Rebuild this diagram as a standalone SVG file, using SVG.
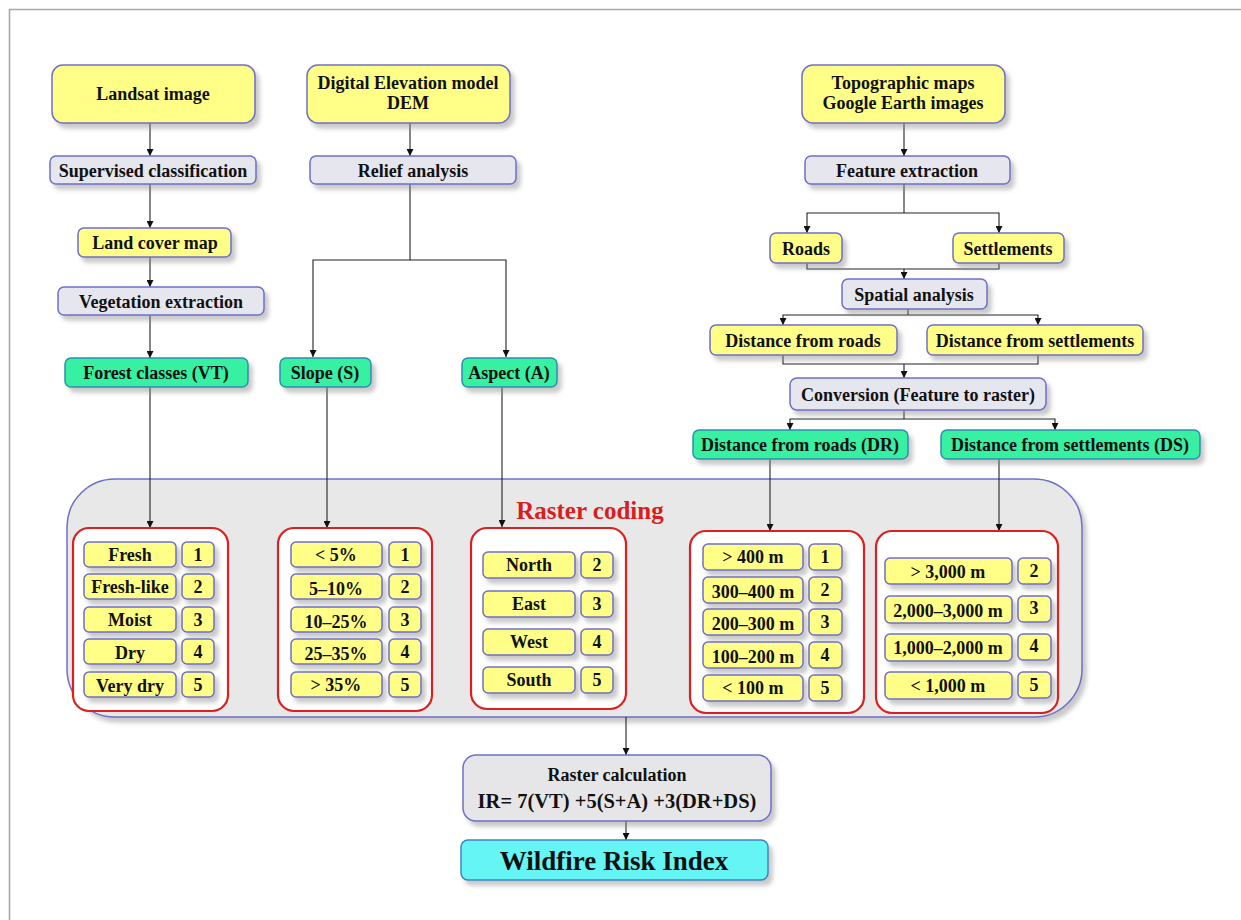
<svg xmlns="http://www.w3.org/2000/svg" width="1241" height="920" viewBox="0 0 1241 920">
<defs>
<filter id="sh" x="-20%" y="-20%" width="140%" height="160%">
<feDropShadow dx="4" dy="5" stdDeviation="2" flood-color="#888" flood-opacity="0.45"/>
</filter>
<marker id="ar" viewBox="0 0 10 10" refX="10" refY="5" markerWidth="7" markerHeight="7" orient="auto" markerUnits="userSpaceOnUse">
<path d="M0,0 L10,5 L0,10 z" fill="#111"/>
</marker>
<style>
text{font-family:"Liberation Serif","Times New Roman",serif;font-weight:bold;fill:#111;text-anchor:middle}
.y{fill:#FFFF88;stroke:#6F6FC6;stroke-width:1.5}
.g{fill:#E6E6EE;stroke:#6F6FC6;stroke-width:1.5}
.t{fill:#38F0A2;stroke:#2A8FB0;stroke-width:1.5}
.c{fill:#66F5F5;stroke:#3A86C0;stroke-width:1.5}
.rb{fill:#FFFFFF;stroke:#DD1F1F;stroke-width:2.2}
.s{font-size:18px}
.m{font-size:18px}
.ln{fill:none;stroke:#222;stroke-width:1.1}
.la{fill:none;stroke:#222;stroke-width:1.1;marker-end:url(#ar)}
</style>
</defs>
<rect x="0" y="0" width="1241" height="920" fill="#FFFFFF"/>
<path d="M9.5,920 V9.5 H1241" fill="none" stroke="#A8A8A8" stroke-width="1.6"/>

<g id="raster-coding">
<rect x="67" y="479" width="1015" height="238" rx="48" fill="#E8E8E8" stroke="#6F6FC6" stroke-width="1.5" filter="url(#sh)"/>
<text x="590" y="519" style="font-size:25px;fill:#D81E1E">Raster coding</text>
</g>

<g id="connectors">
<line class="la" x1="150" y1="123" x2="150" y2="156"/>
<line class="la" x1="150" y1="184" x2="150" y2="228"/>
<line class="la" x1="150" y1="257" x2="150" y2="287"/>
<line class="la" x1="150" y1="315" x2="150" y2="358"/>
<line class="la" x1="150" y1="387" x2="150" y2="528"/>
<line class="la" x1="410" y1="123" x2="410" y2="156"/>
<polyline class="ln" points="410,184 410,260"/>
<polyline class="la" points="410,260 313,260 313,357"/>
<polyline class="la" points="410,260 506,260 506,357"/>
<line class="la" x1="327" y1="387" x2="327" y2="528"/>
<line class="la" x1="502" y1="387" x2="502" y2="527"/>
<line class="la" x1="904" y1="123" x2="904" y2="156"/>
<polyline class="ln" points="904,184 904,213"/>
<polyline class="la" points="904,213 807,213 807,233"/>
<polyline class="la" points="904,213 999,213 999,233"/>
<polyline class="ln" points="807,263 807,269 999,269 999,263"/>
<line class="la" x1="904" y1="269" x2="904" y2="279"/>
<polyline class="ln" points="908,309 908,315"/>
<polyline class="la" points="908,315 783,315 783,325"/>
<polyline class="la" points="908,315 1038,315 1038,325"/>
<polyline class="ln" points="783,355 783,364 1038,364 1038,355"/>
<line class="la" x1="904" y1="364" x2="904" y2="378"/>
<polyline class="ln" points="904,410 904,419"/>
<polyline class="la" points="904,419 790,419 790,430"/>
<polyline class="la" points="904,419 1055,419 1055,430"/>
<line class="la" x1="770" y1="459" x2="770" y2="531"/>
<line class="la" x1="999" y1="459" x2="999" y2="531"/>
<line class="la" x1="626" y1="717" x2="626" y2="755"/>
<line class="la" x1="626" y1="821" x2="626" y2="840"/>
</g>

<g id="landsat"><rect class="y" x="52" y="65" width="203" height="58" rx="11" filter="url(#sh)"/><text class="m" x="153" y="100">Landsat image</text></g>
<g id="dem"><rect class="y" x="307" y="65" width="203" height="58" rx="11" filter="url(#sh)"/><text class="m" x="408" y="89">Digital Elevation model</text><text class="m" x="408" y="109">DEM</text></g>
<g id="topo"><rect class="y" x="802" y="65" width="203" height="58" rx="11" filter="url(#sh)"/><text class="m" x="903" y="89">Topographic maps</text><text class="m" x="903" y="109">Google Earth images</text></g>

<g id="supervised"><rect class="g" x="50" y="156" width="206" height="28" rx="6" filter="url(#sh)"/><text class="s" x="153" y="177">Supervised classification</text></g>
<g id="relief"><rect class="g" x="310" y="156" width="206" height="28" rx="6" filter="url(#sh)"/><text class="s" x="413" y="177">Relief analysis</text></g>
<g id="feature"><rect class="g" x="805" y="156" width="205" height="28" rx="6" filter="url(#sh)"/><text class="s" x="907" y="177">Feature extraction</text></g>

<g id="landcover"><rect class="y" x="78" y="228" width="153" height="29" rx="6" filter="url(#sh)"/><text class="s" x="155" y="249">Land cover map</text></g>
<g id="vegetation"><rect class="g" x="58" y="287" width="206" height="28" rx="6" filter="url(#sh)"/><text class="s" x="161" y="308">Vegetation extraction</text></g>
<g id="forest"><rect class="t" x="65" y="358" width="183" height="29" rx="6" filter="url(#sh)"/><text class="s" x="156" y="379">Forest classes (VT)</text></g>
<g id="slope"><rect class="t" x="280" y="358" width="91" height="29" rx="6" filter="url(#sh)"/><text class="s" x="325" y="379">Slope (S)</text></g>
<g id="aspect"><rect class="t" x="462" y="358" width="95" height="29" rx="6" filter="url(#sh)"/><text class="s" x="509" y="379">Aspect (A)</text></g>

<g id="roads"><rect class="y" x="770" y="233" width="72" height="30" rx="6" filter="url(#sh)"/><text class="s" x="806" y="255">Roads</text></g>
<g id="settlements"><rect class="y" x="953" y="233" width="111" height="30" rx="6" filter="url(#sh)"/><text class="s" x="1008" y="255">Settlements</text></g>
<g id="spatial"><rect class="g" x="842" y="279" width="145" height="30" rx="6" filter="url(#sh)"/><text class="s" x="914" y="301">Spatial analysis</text></g>
<g id="dist-roads"><rect class="y" x="710" y="325" width="187" height="30" rx="6" filter="url(#sh)"/><text class="s" x="803" y="347">Distance from roads</text></g>
<g id="dist-settl"><rect class="y" x="927" y="325" width="216" height="30" rx="6" filter="url(#sh)"/><text class="s" x="1035" y="347">Distance from settlements</text></g>
<g id="conversion"><rect class="g" x="790" y="378" width="256" height="32" rx="7" filter="url(#sh)"/><text class="s" x="918" y="401">Conversion (Feature to raster)</text></g>
<g id="dr"><rect class="t" x="693" y="430" width="215" height="29" rx="6" filter="url(#sh)"/><text class="s" x="800" y="451">Distance from roads (DR)</text></g>
<g id="ds"><rect class="t" x="941" y="430" width="259" height="29" rx="6" filter="url(#sh)"/><text class="s" x="1070" y="451">Distance from settlements (DS)</text></g>

<g id="vt-codes">
<rect class="rb" x="73" y="528" width="155" height="183" rx="16"/>
<g filter="url(#sh)">
<rect class="y" x="84" y="542" width="92" height="25" rx="5"/><rect class="y" x="182" y="542" width="32" height="25" rx="5"/>
<rect class="y" x="84" y="574" width="92" height="25" rx="5"/><rect class="y" x="182" y="574" width="32" height="25" rx="5"/>
<rect class="y" x="84" y="607" width="92" height="25" rx="5"/><rect class="y" x="182" y="607" width="32" height="25" rx="5"/>
<rect class="y" x="84" y="639" width="92" height="25" rx="5"/><rect class="y" x="182" y="639" width="32" height="25" rx="5"/>
<rect class="y" x="84" y="672" width="92" height="25" rx="5"/><rect class="y" x="182" y="672" width="32" height="25" rx="5"/>
</g>
<text class="s" x="130" y="561">Fresh</text><text class="s" x="198" y="561">1</text>
<text class="s" x="130" y="593">Fresh-like</text><text class="s" x="198" y="593">2</text>
<text class="s" x="130" y="626">Moist</text><text class="s" x="198" y="626">3</text>
<text class="s" x="130" y="659">Dry</text><text class="s" x="198" y="658">4</text>
<text class="s" x="130" y="692">Very dry</text><text class="s" x="198" y="691">5</text>
</g>

<g id="s-codes">
<rect class="rb" x="278" y="528" width="154" height="183" rx="16"/>
<g filter="url(#sh)">
<rect class="y" x="291" y="542" width="91" height="25" rx="5"/><rect class="y" x="389" y="542" width="32" height="25" rx="5"/>
<rect class="y" x="291" y="574" width="91" height="25" rx="5"/><rect class="y" x="389" y="574" width="32" height="25" rx="5"/>
<rect class="y" x="291" y="607" width="91" height="25" rx="5"/><rect class="y" x="389" y="607" width="32" height="25" rx="5"/>
<rect class="y" x="291" y="639" width="91" height="25" rx="5"/><rect class="y" x="389" y="639" width="32" height="25" rx="5"/>
<rect class="y" x="291" y="672" width="91" height="25" rx="5"/><rect class="y" x="389" y="672" width="32" height="25" rx="5"/>
</g>
<text class="s" x="336" y="561">&lt; 5%</text><text class="s" x="405" y="561">1</text>
<text class="s" x="336" y="595">5–10%</text><text class="s" x="405" y="593">2</text>
<text class="s" x="336" y="628">10–25%</text><text class="s" x="405" y="626">3</text>
<text class="s" x="336" y="660">25–35%</text><text class="s" x="405" y="658">4</text>
<text class="s" x="336" y="691">&gt; 35%</text><text class="s" x="405" y="691">5</text>
</g>

<g id="a-codes">
<rect class="rb" x="471" y="528" width="155" height="181" rx="16"/>
<g filter="url(#sh)">
<rect class="y" x="483" y="552" width="92" height="26" rx="5"/><rect class="y" x="581" y="552" width="32" height="26" rx="5"/>
<rect class="y" x="483" y="591" width="92" height="26" rx="5"/><rect class="y" x="581" y="591" width="32" height="26" rx="5"/>
<rect class="y" x="483" y="629" width="92" height="26" rx="5"/><rect class="y" x="581" y="629" width="32" height="26" rx="5"/>
<rect class="y" x="483" y="667" width="92" height="26" rx="5"/><rect class="y" x="581" y="667" width="32" height="26" rx="5"/>
</g>
<text class="s" x="529" y="571">North</text><text class="s" x="597" y="571">2</text>
<text class="s" x="529" y="610">East</text><text class="s" x="597" y="610">3</text>
<text class="s" x="529" y="648">West</text><text class="s" x="597" y="648">4</text>
<text class="s" x="529" y="686">South</text><text class="s" x="597" y="686">5</text>
</g>

<g id="dr-codes">
<rect class="rb" x="690" y="531" width="174" height="182" rx="16"/>
<g filter="url(#sh)">
<rect class="y" x="703" y="544" width="100" height="26" rx="5"/><rect class="y" x="809" y="544" width="33" height="26" rx="5"/>
<rect class="y" x="703" y="577" width="100" height="26" rx="5"/><rect class="y" x="809" y="577" width="33" height="26" rx="5"/>
<rect class="y" x="703" y="609" width="100" height="26" rx="5"/><rect class="y" x="809" y="609" width="33" height="26" rx="5"/>
<rect class="y" x="703" y="642" width="100" height="26" rx="5"/><rect class="y" x="809" y="642" width="33" height="26" rx="5"/>
<rect class="y" x="703" y="675" width="100" height="26" rx="5"/><rect class="y" x="809" y="675" width="33" height="26" rx="5"/>
</g>
<text class="s" x="753" y="563">&gt; 400 m</text><text class="s" x="825" y="563">1</text>
<text class="s" x="753" y="598">300–400 m</text><text class="s" x="825" y="596">2</text>
<text class="s" x="753" y="630">200–300 m</text><text class="s" x="825" y="628">3</text>
<text class="s" x="753" y="663">100–200 m</text><text class="s" x="825" y="661">4</text>
<text class="s" x="753" y="694">&lt; 100 m</text><text class="s" x="825" y="694">5</text>
</g>

<g id="ds-codes">
<rect class="rb" x="876" y="531" width="182" height="182" rx="16"/>
<g filter="url(#sh)">
<rect class="y" x="885" y="558" width="127" height="26" rx="5"/><rect class="y" x="1018" y="558" width="33" height="26" rx="5"/>
<rect class="y" x="885" y="596" width="127" height="27" rx="5"/><rect class="y" x="1018" y="596" width="33" height="26" rx="5"/>
<rect class="y" x="885" y="634" width="127" height="27" rx="5"/><rect class="y" x="1018" y="634" width="33" height="26" rx="5"/>
<rect class="y" x="885" y="672" width="127" height="27" rx="5"/><rect class="y" x="1018" y="672" width="33" height="26" rx="5"/>
</g>
<text class="s" x="948" y="578">&gt; 3,000 m</text><text class="s" x="1034" y="577">2</text>
<text class="s" x="948" y="617">2,000–3,000 m</text><text class="s" x="1034" y="614">3</text>
<text class="s" x="948" y="654">1,000–2,000 m</text><text class="s" x="1034" y="652">4</text>
<text class="s" x="948" y="692">&lt; 1,000 m</text><text class="s" x="1034" y="691">5</text>
</g>

<g id="raster-calc"><rect x="463" y="755" width="308" height="66" rx="13" fill="#E6E6E8" stroke="#6F6FC6" stroke-width="1.5" filter="url(#sh)"/><text x="617" y="781" style="font-size:18px">Raster calculation</text><text x="617" y="808" style="font-size:20.5px">IR= 7(VT) +5(S+A) +3(DR+DS)</text></g>
<g id="wildfire"><rect class="c" x="461" y="840" width="307" height="40" rx="7" filter="url(#sh)"/><text x="614" y="870" style="font-size:27px">Wildfire Risk Index</text></g>
</svg>
